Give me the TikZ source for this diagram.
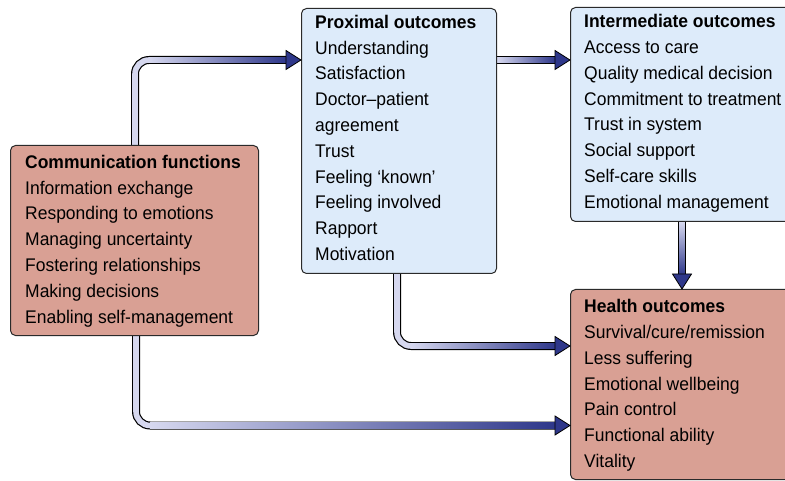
\documentclass[tikz,border=0pt]{standalone}
\usepackage{fontspec}
\setmainfont{Liberation Sans}[FakeStretch=0.955]
\usetikzlibrary{calc}
\pgfdeclarelayer{bg}
\pgfdeclarelayer{tubes}
\pgfsetlayers{bg,tubes,main}
\definecolor{salmon}{HTML}{D9A094}
\definecolor{paleblue}{HTML}{DDEBFA}
\definecolor{tubelight}{HTML}{D6D8EF}
\definecolor{tubedark}{HTML}{2E378A}
\definecolor{edgecol}{HTML}{2A2A2A}
\tikzset{
  box/.style={draw=edgecol, line width=1pt, rounded corners=5pt, anchor=north west, inner sep=0pt},
  redbox/.style={box, fill=salmon},
  bluebox/.style={box, fill=paleblue},
  txt/.style={anchor=north west, inner sep=0pt, align=left, font=\fontsize{18.3}{25.8}\selectfont},
  tubeout/.style={line width=8pt, draw=black, rounded corners=14pt},
  tubein/.style={line width=5.6pt, draw=tubelight, rounded corners=14pt},
  head/.style={fill=tubedark, draw=black, line width=0.8pt, line join=miter},
}
\begin{document}
\begin{tikzpicture}[x=1pt,y=-1pt]
\clip (0,0) rectangle (785,481);
\begin{pgfonlayer}{bg}
\fill[white] (0,0) rectangle (785,481);
\end{pgfonlayer}

% boxes
\node[redbox, minimum width=248pt, minimum height=190pt] (comm) at (10,145) {};
\node[bluebox, minimum width=195pt, minimum height=265pt] (prox) at (301,8) {};
\node[bluebox, minimum width=230pt, minimum height=214pt] (inter) at (570,7) {};
\node[redbox, minimum width=230pt, minimum height=190pt] (health) at (570,289) {};

% texts
\node[txt] (commtxt) at (25,154.9) {\textbf{Communication functions}\\Information exchange\\Responding to emotions\\Managing uncertainty\\Fostering relationships\\Making decisions\\Enabling self-management};
\node[txt] (proxtxt) at (315,14.9) {\textbf{Proximal outcomes}\\Understanding\\Satisfaction\\Doctor–patient\\agreement\\Trust\\Feeling ‘known’\\Feeling involved\\Rapport\\Motivation};
\node[txt] (intertxt) at (584,14.3) {\textbf{Intermediate outcomes}\\Access to care\\Quality medical decision\\Commitment to treatment\\Trust in system\\Social support\\Self-care skills\\Emotional management};
\node[txt] (healthtxt) at (584,299.3) {\textbf{Health outcomes}\\Survival/cure/remission\\Less suffering\\Emotional wellbeing\\Pain control\\Functional ability\\Vitality};

% helper coordinates
\coordinate (c1) at (135,60);
\coordinate (c3) at (682,250);
\coordinate (c4) at (397,346);
\coordinate (c5) at (136,425.5);
\coordinate (hb1) at ($(c1 -| prox.west)+(-15,0)$);
\coordinate (hb2) at ($(c1 -| inter.west)+(-15,0)$);
\coordinate (hb3) at ($(c3 |- health.north)+(0,-15)$);
\coordinate (hb4) at ($(c4 -| health.west)+(-15,0)$);
\coordinate (hb5) at ($(c5 -| health.west)+(-15,0)$);

\begin{pgfonlayer}{tubes}
% arrow 1: comm -> prox
\draw[tubeout] ($(c1 |- comm.north)+(0,3)$) -- (c1) -- (hb1);
\draw[tubein] ($(c1 |- comm.north)+(0,3)$) -- (c1) -- (hb1);
\shade[left color=tubelight, right color=tubedark] ($(c1)+(14,-2.8)$) rectangle ($(hb1)+(0.5,2.8)$);
% arrow 2: prox -> inter
\draw[tubeout] ($(c1 -| prox.east)+(-3,0)$) -- (hb2);
\draw[tubein] ($(c1 -| prox.east)+(-3,0)$) -- (hb2);
\shade[left color=tubelight, right color=tubedark] ($(c1 -| prox.east)+(0.5,-2.8)$) rectangle ($(hb2)+(0.5,2.8)$);
% arrow 3: inter -> health
\draw[tubeout] ($(c3 |- inter.south)+(0,-3)$) -- (hb3);
\draw[tubein] ($(c3 |- inter.south)+(0,-3)$) -- (hb3);
\shade[top color=tubelight, bottom color=tubedark] ($(c3 |- inter.south)+(-2.8,0.5)$) rectangle ($(hb3)+(2.8,0.5)$);
% arrow 4: prox -> health
\draw[tubeout] ($(c4 |- prox.south)+(0,-3)$) -- (c4) -- (hb4);
\draw[tubein] ($(c4 |- prox.south)+(0,-3)$) -- (c4) -- (hb4);
\shade[left color=tubelight, right color=tubedark] ($(c4)+(14,-2.8)$) rectangle ($(hb4)+(0.5,2.8)$);
% arrow 5: comm -> health
\draw[tubeout] ($(c5 |- comm.south)+(0,-3)$) -- (c5) -- (hb5);
\draw[tubein] ($(c5 |- comm.south)+(0,-3)$) -- (c5) -- (hb5);
\shade[left color=tubelight, right color=tubedark] ($(c5)+(14,-2.8)$) rectangle ($(hb5)+(0.5,2.8)$);
\end{pgfonlayer}

% heads
\draw[head] ($(hb1)+(0,-9.5)$) -- (c1 -| prox.west) -- ($(hb1)+(0,9.5)$) -- cycle;
\draw[head] ($(hb2)+(0,-9.5)$) -- (c1 -| inter.west) -- ($(hb2)+(0,9.5)$) -- cycle;
\draw[head] ($(hb3)+(-9.5,0)$) -- (c3 |- health.north) -- ($(hb3)+(9.5,0)$) -- cycle;
\draw[head] ($(hb4)+(0,-9.5)$) -- (c4 -| health.west) -- ($(hb4)+(0,9.5)$) -- cycle;
\draw[head] ($(hb5)+(0,-9.5)$) -- (c5 -| health.west) -- ($(hb5)+(0,9.5)$) -- cycle;
\end{tikzpicture}
\end{document}
